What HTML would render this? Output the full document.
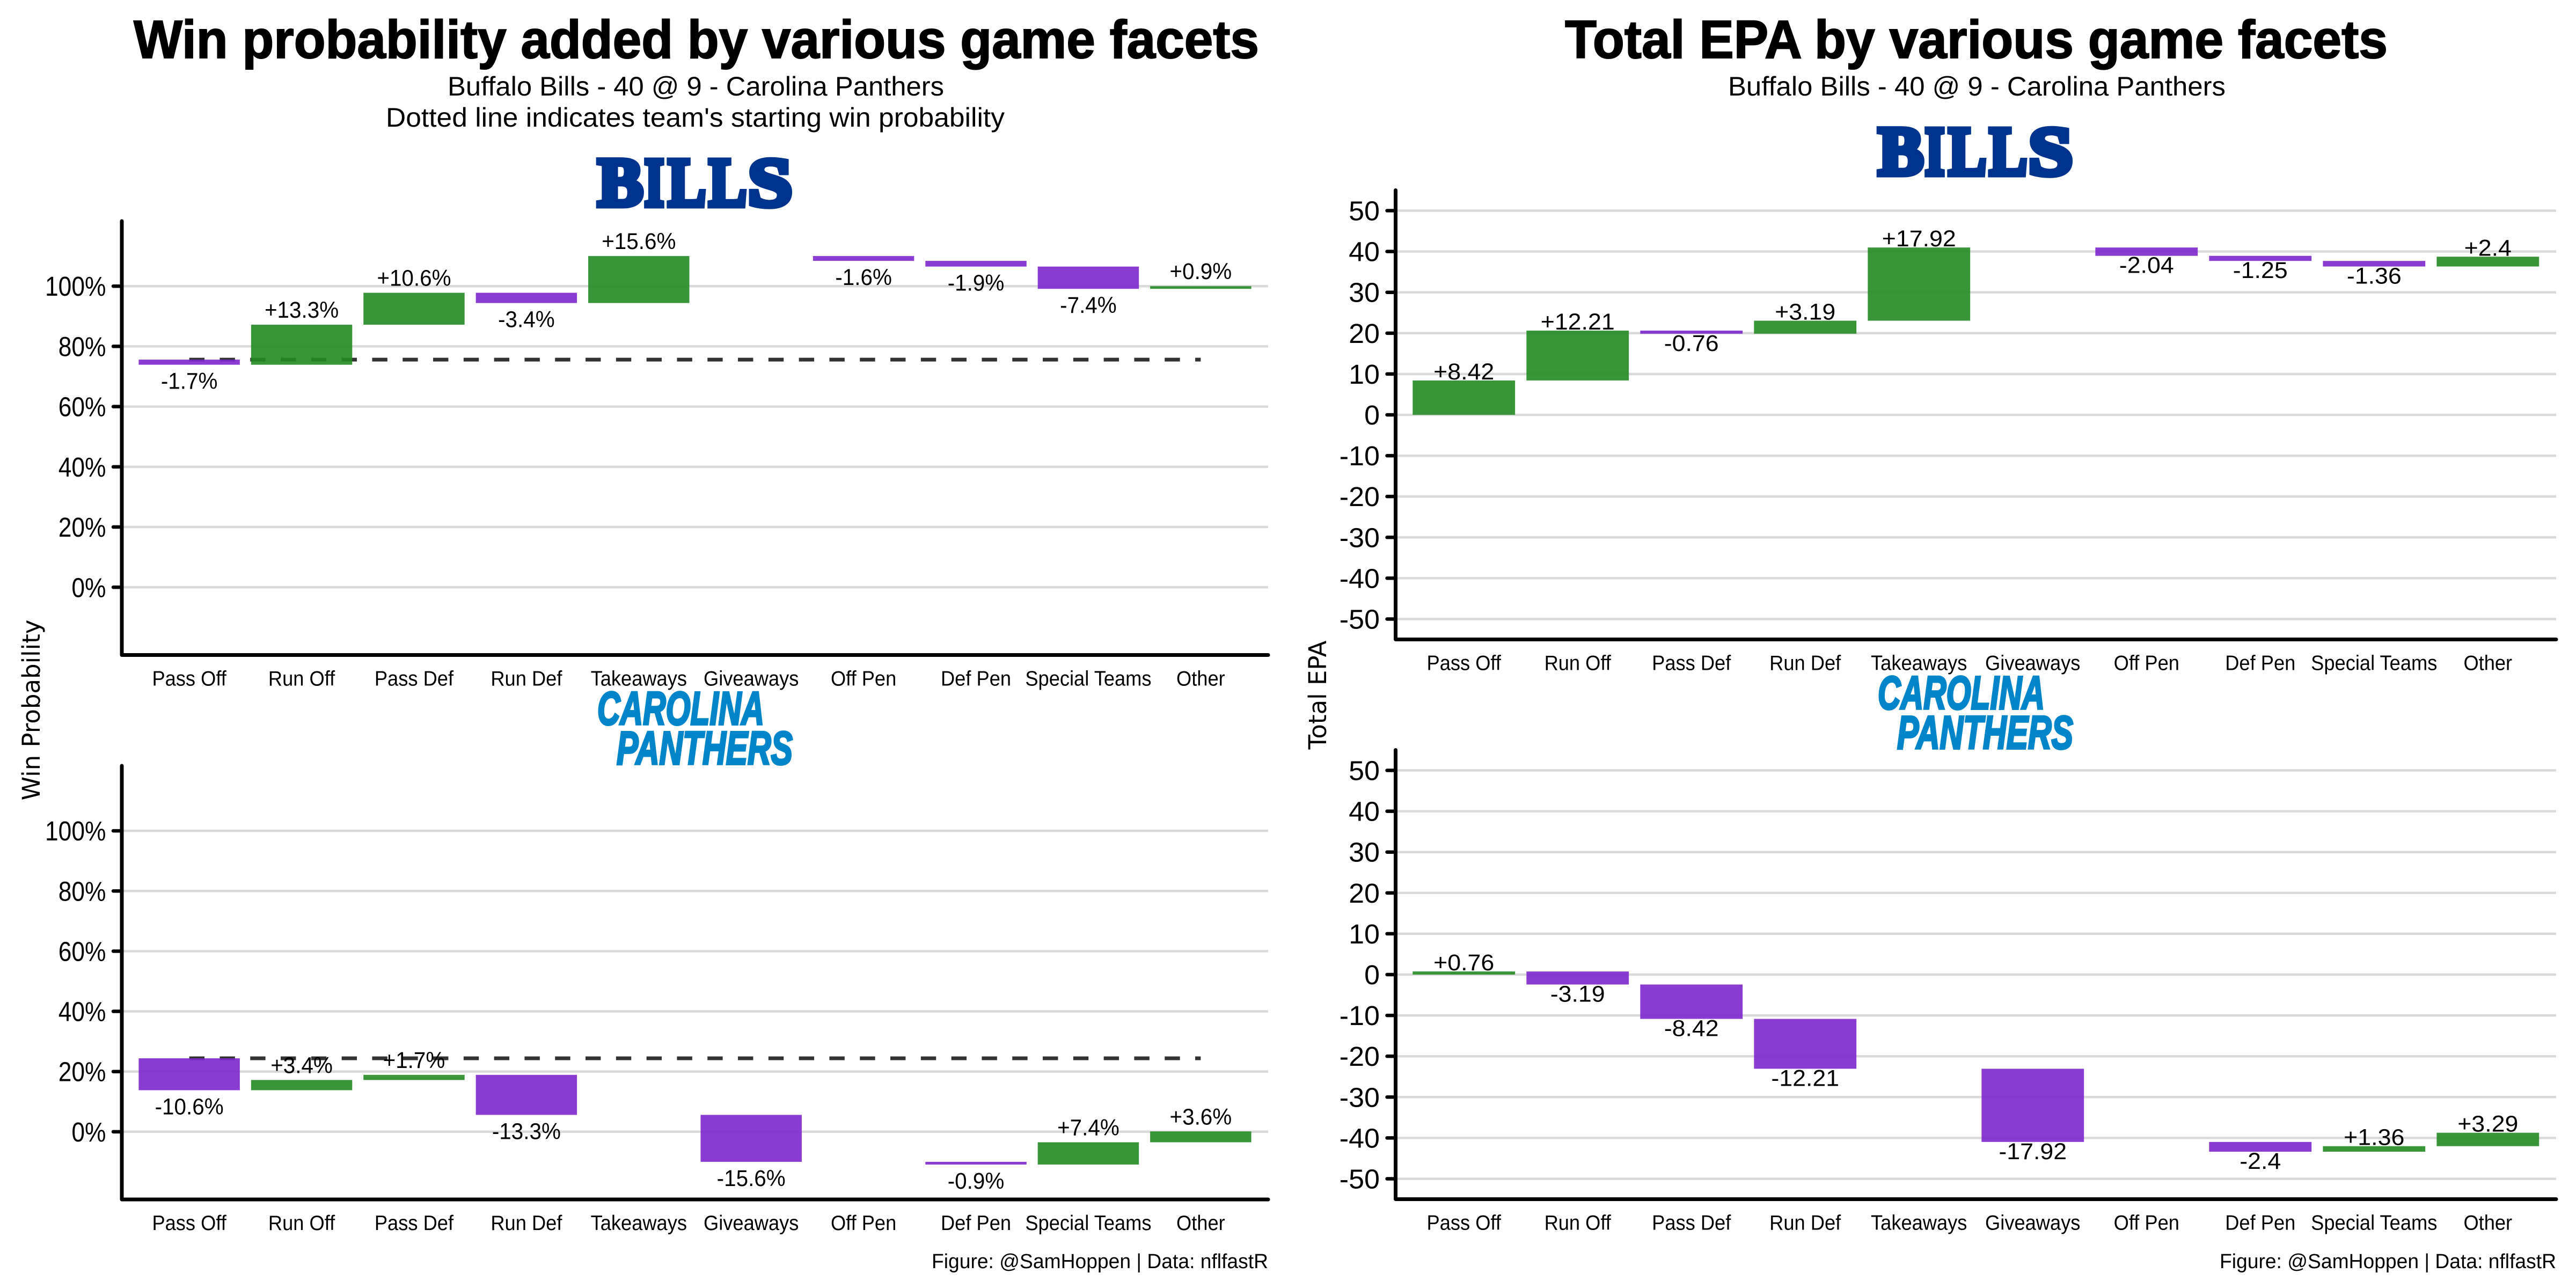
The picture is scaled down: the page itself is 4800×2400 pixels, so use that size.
<!DOCTYPE html>
<html lang="en">
<head>
<meta charset="utf-8">
<title>Win probability and total EPA by game facets</title>
<style>
html,body{margin:0;padding:0;background:#fff;}
svg{display:block;}
text{font-family:"Liberation Sans",sans-serif;fill:#000;}
.title{font-size:100px;font-weight:700;stroke:#000;stroke-width:2px;}
.sub{font-size:50px;}
.cap{font-size:38px;}
.ax{font-family:"DejaVu Sans",sans-serif;font-size:45px;}
.bills{font-family:"Liberation Serif",serif;font-weight:700;font-size:128px;fill:#00338D;stroke:#00338D;stroke-width:11px;stroke-linejoin:miter;}
.cats{font-weight:700;font-style:italic;font-size:87px;fill:#0085CA;stroke:#0085CA;stroke-width:4px;}
</style>
</head>
<body>
<svg id="chart" xmlns="http://www.w3.org/2000/svg" width="4800" height="2400" viewBox="0 0 4800 2400">
<rect x="0" y="0" width="4800" height="2400" fill="#fff"/>
<text class="title" x="249" y="108" textLength="2097" lengthAdjust="spacingAndGlyphs">Win probability added by various game facets</text>
<text class="sub" x="834" y="178" textLength="925" lengthAdjust="spacingAndGlyphs">Buffalo Bills - 40 @ 9 - Carolina Panthers</text>
<text class="sub" x="719" y="236" textLength="1153" lengthAdjust="spacingAndGlyphs">Dotted line indicates team's starting win probability</text>
<text class="title" x="2916" y="108" textLength="1533" lengthAdjust="spacingAndGlyphs">Total EPA by various game facets</text>
<text class="sub" x="3220" y="178" textLength="927" lengthAdjust="spacingAndGlyphs">Buffalo Bills - 40 @ 9 - Carolina Panthers</text>
<text class="ax" transform="translate(74,1323) rotate(-90)" text-anchor="middle">Win Probability</text>
<text class="ax" transform="translate(2471,1295) rotate(-90)" text-anchor="middle">Total EPA</text>
<text class="cap" x="1736" y="2363" textLength="627" lengthAdjust="spacingAndGlyphs">Figure: @SamHoppen | Data: nflfastR</text>
<text class="cap" x="4136" y="2363" textLength="627" lengthAdjust="spacingAndGlyphs">Figure: @SamHoppen | Data: nflfastR</text>
<g id="panels"></g>
<g id="bills-a">
<text class="bills" x="1114" y="383" textLength="84" lengthAdjust="spacingAndGlyphs">B</text>
<text class="bills" x="1201" y="383" textLength="36" lengthAdjust="spacingAndGlyphs">I</text>
<text class="bills" x="1245" y="383" textLength="70" lengthAdjust="spacingAndGlyphs">L</text>
<text class="bills" x="1321" y="383" textLength="70" lengthAdjust="spacingAndGlyphs">L</text>
<text class="bills" x="1394" y="383" textLength="82" lengthAdjust="spacingAndGlyphs">S</text>
</g>
<g transform="translate(2386,-58)">
<text class="bills" x="1114" y="383" textLength="84" lengthAdjust="spacingAndGlyphs">B</text>
<text class="bills" x="1201" y="383" textLength="36" lengthAdjust="spacingAndGlyphs">I</text>
<text class="bills" x="1245" y="383" textLength="70" lengthAdjust="spacingAndGlyphs">L</text>
<text class="bills" x="1321" y="383" textLength="70" lengthAdjust="spacingAndGlyphs">L</text>
<text class="bills" x="1394" y="383" textLength="82" lengthAdjust="spacingAndGlyphs">S</text>
</g>
<g>
<text class="cats" x="1113" y="1350" textLength="311" lengthAdjust="spacingAndGlyphs">CAROLINA</text>
<text class="cats" x="1149" y="1424" textLength="328" lengthAdjust="spacingAndGlyphs">PANTHERS</text>
</g>
<g transform="translate(2386,-29)">
<text class="cats" x="1113" y="1350" textLength="311" lengthAdjust="spacingAndGlyphs">CAROLINA</text>
<text class="cats" x="1149" y="1424" textLength="328" lengthAdjust="spacingAndGlyphs">PANTHERS</text>
</g>
</svg>
<script>
const categories = ["Pass Off","Run Off","Pass Def","Run Def","Takeaways","Giveaways","Off Pen","Def Pen","Special Teams","Other"];
const wpTicks = [0,20,40,60,80,100];
const epaTicks = [-50,-40,-30,-20,-10,0,10,20,30,40,50];
const billsStartWp = 75.6;
const panthersStartWp = 24.4;
const billsWpAdded = [-1.7,13.3,10.6,-3.4,15.6,0,-1.6,-1.9,-7.4,0.9];
const panthersWpAdded = [-10.6,3.4,1.7,-13.3,0,-15.6,0,-0.9,7.4,3.6];
const billsEpa = [8.42,12.21,-0.76,3.19,17.92,0,-2.04,-1.25,-1.36,2.4];
const panthersEpa = [0.76,-3.19,-8.42,-12.21,0,-17.92,0,-2.4,1.36,3.29];

const NS = 'http://www.w3.org/2000/svg';
const root = document.getElementById('panels');
const GREEN = '#228B22';
const PURPLE = '#7D26CD';

function mk(tag, attrs, parent){
  const el = document.createElementNS(NS, tag);
  for (const k in attrs) el.setAttribute(k, attrs[k]);
  parent.appendChild(el);
  return el;
}
function txt(str, x, y, size, anchor, factor, parent){
  const el = mk('text', {x:x, y:y, 'font-size':size, 'text-anchor':anchor}, parent);
  el.textContent = str;
  const w = el.getComputedTextLength();
  el.setAttribute('textLength', (w*factor).toFixed(1));
  el.setAttribute('lengthAdjust', 'spacingAndGlyphs');
  return el;
}
function drawPanel(p){
  const g = mk('g', {}, root);
  
  
  const unit = (p.right - p.left) / (categories.length + 0.2);
  const xPos = i => p.left + (i + 0.6) * unit;
  const yPos = v => p.bottom - (v - p.domain[0]) / (p.domain[1] - p.domain[0]) * (p.bottom - p.top);

  p.ticks.forEach(t => {
    const grid = mk('line', {x1:p.left, x2:p.right, y1:yPos(t), y2:yPos(t), stroke:'#d9d9d9', 'stroke-width':4.5}, g);
    
    
  });

  if (p.start !== null) {
    const dash = mk('line', {x1:xPos(0), x2:xPos(categories.length-1), y1:yPos(p.start), y2:yPos(p.start), stroke:'#333', 'stroke-width':7, 'stroke-dasharray':'28.4 28.4'}, g);
    
    
  }

  let running = p.start === null ? 0 : p.start;
  const bars = [];
  p.values.forEach((v, i) => {
    const from = running;
    const to = running + v;
    running = to;
    if (v === 0) return;
    const hi = Math.max(from, to), lo = Math.min(from, to);
    const label = (v > 0 ? '+' : '') + v + p.suffix;
    const ly = v > 0 ? yPos(hi) - p.above : yPos(lo) + p.below;
    const t = txt(label, xPos(i), ly, 43, 'middle', p.labelFactor, g);
    
    
    bars.push({i:i, hi:hi, lo:lo, v:v});
  });
  bars.forEach(b => {
    const r = mk('rect', {x:xPos(b.i)-0.45*unit, width:0.9*unit, y:yPos(b.hi), height:yPos(b.lo)-yPos(b.hi), fill:b.v>0?GREEN:PURPLE, 'fill-opacity':0.9}, g);
    
    
  });

  const axis = mk('path', {d:'M'+p.left+' '+p.top+'V'+p.bottom+'H'+p.right, fill:'none', stroke:'#000', 'stroke-width':7, 'stroke-linecap':'round', 'stroke-linejoin':'round'}, g);
  
  

  p.ticks.forEach(t => {
    const y = yPos(t);
    const mark = mk('line', {x1:p.left-16, x2:p.left, y1:y, y2:y, stroke:'#000', 'stroke-width':6.5, 'stroke-linecap':'round'}, g);
    
    
    const lab = txt(t + p.suffix, p.left-29.5, y+18, 51, 'end', p.tickFactor, g);
    
    
  });

  categories.forEach((c, i) => {
    const lab = txt(c, xPos(i), p.bottom+57, 39, 'middle', 0.93, g);
    
    
  });
}
drawPanel({name:'bills-win-probability-panel', left:227, right:2363, top:412, bottom:1220.5, domain:[-22.5,121.6], ticks:wpTicks, values:billsWpAdded, start:billsStartWp, suffix:'%', above:13, below:45, labelFactor:0.94, tickFactor:0.87});
drawPanel({name:'panthers-win-probability-panel', left:227, right:2363, top:1427, bottom:2235, domain:[-22.5,121.6], ticks:wpTicks, values:panthersWpAdded, start:panthersStartWp, suffix:'%', above:13, below:45, labelFactor:0.94, tickFactor:0.87});
drawPanel({name:'bills-epa-panel', left:2600.5, right:4763, top:354.5, bottom:1191.5, domain:[-55,55], ticks:epaTicks, values:billsEpa, start:null, suffix:'', above:2, below:32, labelFactor:1.04, tickFactor:1.02});
drawPanel({name:'panthers-epa-panel', left:2600.5, right:4763, top:1397.5, bottom:2234.5, domain:[-55,55], ticks:epaTicks, values:panthersEpa, start:null, suffix:'', above:2, below:32, labelFactor:1.04, tickFactor:1.02});
</script>
</body>
</html>
